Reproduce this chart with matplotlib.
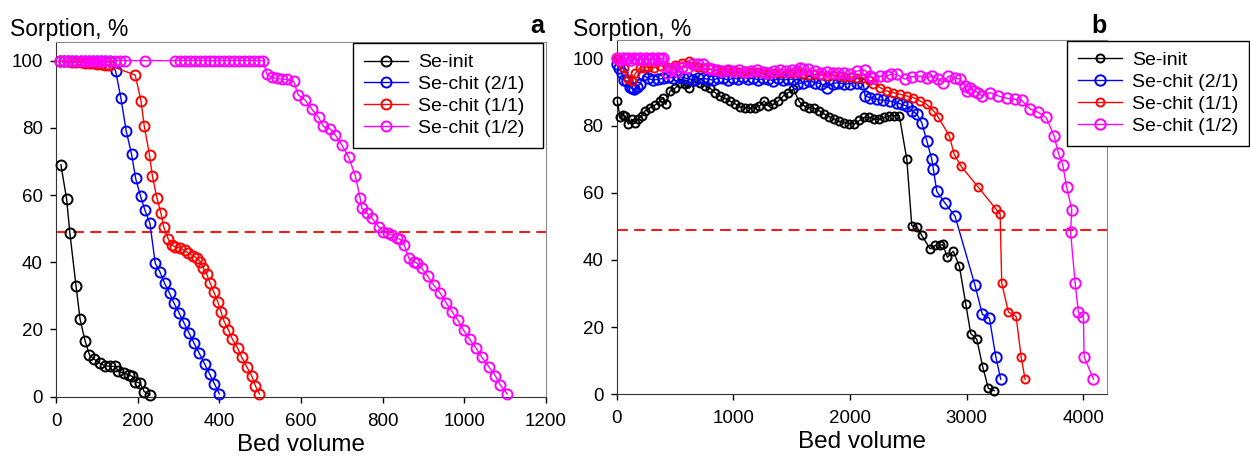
import matplotlib
matplotlib.use("Agg")
from matplotlib import pyplot as plt

plt.rcParams['font.family'] = ['Liberation Sans', 'DejaVu Sans']

labels = ["Se-init", "Se-chit (2/1)", "Se-chit (1/1)", "Se-chit (1/2)"]
colors = ["black", "#0000ff", "#ff0000", "#ff00ff"]

# ---- column a: bed volume vs sorption
a_init_x = [12, 26, 34, 49, 59, 71, 82, 94, 108, 120, 132, 145, 153, 166, 178, 187, 194, 206, 216, 230]
a_init_y = [69, 58.8, 48.6, 33, 23, 16.7, 12.4, 11.1, 9.9, 9.2, 9, 9, 7.5, 7, 6.5, 6, 4.5, 4, 1.5, 0.5]

a_21_x = [10, 20, 30, 40, 50, 60, 70, 80, 90, 100, 110, 120, 132, 146, 159, 172, 185, 195, 207,
          218, 230, 243, 255, 266, 278, 289, 302, 314, 326, 338, 351, 364, 376, 388, 400]
a_21_y = [100, 100, 100, 100, 100, 100, 100, 100, 100, 100, 100, 100, 100, 96.9, 88.8, 79, 72.2,
          65, 59.7, 55.4, 51.6, 39.7, 37, 33.7, 30.8, 27.8, 24.8, 21.8, 18.9, 15.9, 12.9, 9.7,
          6.8, 3.8, 0.8]

a_11_x = [10, 20, 30, 40, 50, 60, 70, 80, 90, 100, 110, 120, 130, 194, 208, 216, 229, 236, 247,
          257, 264, 275, 284, 292, 304, 315, 324, 335, 345, 353, 361, 369, 378, 387, 396, 404,
          412, 422, 432, 445, 455, 467, 480, 488, 498]
a_11_y = [100, 99.9, 99.8, 99.7, 99.6, 99.5, 99.4, 99.3, 99.2, 99.1, 99, 98.8, 98.6, 95.7, 88.1,
          80.6, 71.9, 65.7, 59.2, 54.6, 50.4, 46.9, 45.1, 44.6, 44.2, 43.5, 42.7, 42, 41.2, 40.2,
          38.2, 36.4, 33.7, 31, 28.3, 25.3, 22.3, 19.9, 17.1, 14.4, 11.7, 8.9, 6, 3.3, 0.8]

a_12_x = [10, 20, 30, 40, 50, 60, 70, 80, 90, 100, 110, 120, 130, 145, 157, 169, 218,
          292, 304, 316, 328, 340, 352, 364, 376, 388, 400, 412, 424, 436, 448, 460, 472, 484,
          496, 508, 516, 529, 541, 553, 566, 582, 593, 610, 627, 643, 655, 672, 684, 700, 717,
          733, 745, 749, 761, 774, 790, 802, 812, 823, 835, 843, 853, 864, 876, 884, 896, 910,
          925, 941, 955, 970, 984, 998, 1013, 1029, 1043, 1060, 1076, 1088, 1105]
a_12_y = [100, 100, 100, 100, 100, 100, 100, 100, 100, 100, 100, 100, 100, 100, 100, 100, 100,
          100, 100, 100, 100, 100, 100, 100, 100, 100, 100, 100, 100, 100, 100, 100, 100, 100,
          100, 100, 96, 95, 94.7, 94.5, 94.4, 93.8, 89.8, 88.3, 85.5, 83.1, 80.4, 79.6, 77.9,
          74.9, 71.2, 65.7, 59, 56, 54.6, 53.1, 50.6, 48.9, 48.6, 48.1, 47.1, 46.8, 45.1, 41.2,
          40.2, 39.7, 38.2, 35.9, 33.2, 30.8, 28, 25.3, 22.8, 19.8, 17.1, 14.4, 11.7, 8.9, 6.2,
          3.5, 0.8]

# ---- column b
b_init_x = [5, 28, 50, 71, 100, 128, 157, 185, 214, 243, 285, 328, 371, 400, 420, 457, 500, 543,
            585, 622, 671, 714, 757, 800, 843, 885, 928, 971, 1014, 1057, 1100, 1143, 1185, 1223,
            1263, 1300, 1343, 1385, 1428, 1471, 1514, 1565, 1608, 1651, 1694, 1737, 1780, 1822,
            1865, 1908, 1951, 1994, 2037, 2080, 2122, 2165, 2208, 2251, 2294, 2337, 2380, 2422,
            2486, 2529, 2571, 2614, 2686, 2728, 2771, 2794, 2834, 2885, 2937, 2991, 3034, 3086,
            3137, 3185, 3237]
b_init_y = [87.3, 82.4, 83, 82.9, 80.4, 81.9, 80.9, 81.9, 82.9, 84.4, 85.3, 86.1, 87.3, 88.3, 86.3,
            90.3, 91.1, 92.8, 92.3, 91.1, 93.3, 92.8, 91.8, 91.1, 89.8, 88.8, 88.1, 87.3, 86.5,
            85.5, 85.3, 85.1, 85.3, 85.8, 87.3, 85.8, 86.3, 87.3, 88.8, 89.8, 90.8, 87.1, 85.8,
            85.3, 85.1, 84.4, 83.4, 82.6, 81.9, 81.2, 80.9, 80.6, 80.4, 81.5, 82.4, 82.4, 81.9,
            81.9, 82.4, 82.9, 82.9, 82.9, 70, 50.2, 49.9, 47.3, 43.3, 44.3, 44.3, 44.6, 40.8,
            42.6, 38.1, 27, 18.1, 16.4, 8.2, 1.8, 1.1]

b_21_x = [0, 20, 43, 65, 86, 110, 128, 150, 171, 200, 228, 271, 314, 357, 400, 443, 485, 528, 571,
          614, 657, 700, 742, 785, 828, 871, 914, 957, 1000, 1043, 1086, 1128, 1171, 1214, 1257,
          1300, 1343, 1386, 1428, 1471, 1514, 1543, 1600, 1650, 1700, 1750, 1800, 1850, 1900,
          1950, 2000, 2057, 2114, 2128, 2171, 2228, 2285, 2342, 2400, 2443, 2486, 2529, 2571,
          2614, 2657, 2700, 2714, 2743, 2814, 2900, 3071, 3134, 3194, 3249, 3291]
b_21_y = [98.2, 97, 95.7, 93.5, 93.3, 91.5, 91.1, 90.8, 91.5, 92.3, 95, 94, 93.5, 93.8, 94, 94.5,
          94.2, 94.7, 94.2, 94, 93.5, 94, 94, 93.8, 93.5, 94.2, 94, 93.5, 94.2, 93.8, 94.5, 93.8,
          94.2, 93.5, 94, 93.8, 93.3, 94, 93.5, 93.8, 93.8, 92.3, 92.8, 93.3, 92.8, 92.5, 91.3,
          92.5, 92.8, 92.3, 92.5, 92.8, 92.3, 88.8, 88.3, 87.8, 87.5, 87.3, 86.8, 86.3, 85.8,
          84.4, 83.4, 80.9, 75.5, 70, 67, 60.4, 56.9, 53, 32.4, 23.8, 22.7, 11.2, 4.5]

b_11_x = [0, 30, 60, 100, 128, 160, 200, 231, 270, 320, 370, 430, 500, 560, 617, 660, 700, 750,
          800, 850, 900, 950, 1000, 1050, 1100, 1150, 1200, 1250, 1300, 1350, 1400, 1457, 1500,
          1550, 1600, 1650, 1700, 1750, 1800, 1850, 1914, 1960, 2010, 2060, 2114, 2160, 2200,
          2257, 2314, 2371, 2428, 2486, 2543, 2600, 2657, 2714, 2757, 2851, 2892, 2949, 3100,
          3249, 3286, 3300, 3357, 3423, 3466, 3500]
b_11_y = [99.7, 99, 97, 93.8, 93.3, 95.5, 97.2, 97.2, 97.5, 97.2, 97.8, 97.5, 98, 98.5, 99.2,
          97.8, 97.5, 97, 96.7, 96.5, 96.2, 96.5, 96.2, 96, 96.2, 95.8, 96, 95.7, 96, 95.7, 95.5,
          95.7, 95.5, 95.7, 95.2, 95, 95.2, 95, 94.8, 95, 94.7, 94.5, 94.5, 94.2, 94.2, 93.5,
          92.5, 91.3, 90.3, 89.8, 89.3, 88.8, 88.3, 87.3, 86.3, 84.4, 82.4, 76.9, 71.5, 68, 61.6,
          55.2, 53.7, 33.1, 24.5, 23.2, 11.2, 4.5]

b_12_x = [0, 25, 50, 75, 100, 125, 150, 175, 200, 225, 250, 275, 300, 325, 350, 375, 400, 428,
          460, 490, 520, 560, 600, 657, 700, 742, 780, 817, 860, 900, 950, 1000, 1050, 1100, 1150,
          1200, 1250, 1300, 1350, 1400, 1450, 1500, 1543, 1571, 1600, 1643, 1700, 1750, 1800,
          1850, 1900, 1950, 2000, 2057, 2128, 2171, 2200, 2257, 2314, 2350, 2400, 2471, 2530,
          2600, 2657, 2700, 2757, 2800, 2843, 2900, 2943, 2986, 3000, 3029, 3060, 3100, 3129,
          3200, 3271, 3343, 3414, 3471, 3543, 3614, 3680, 3749, 3786, 3823, 3857, 3900, 3890,
          3929, 3957, 4000, 4006, 4086]
b_12_y = [100, 99.5, 100, 99.7, 100, 99.5, 100, 99.7, 100, 99.5, 100, 99.7, 100, 99.5, 100, 99.7,
          100, 95.7, 96.7, 97.2, 96.2, 97.5, 97.2, 98.2, 98.4, 98.4, 97.2, 96.7, 96.5, 96.2, 96.5,
          96.2, 96.5, 96, 96.2, 96.5, 96, 95.7, 96.2, 96.5, 96.2, 96.5, 96.2, 97.2, 96.7, 96.7,
          96.2, 95.7, 96, 95.7, 95.5, 95.7, 95.2, 96.2, 96.5, 94.7, 94.2, 94.7, 94.7, 95.2, 95.2,
          93.8, 94.5, 94.7, 94.2, 94.7, 93.8, 92.8, 94.7, 94.2, 93.8, 91.8, 90.3, 91.3, 90.3,
          89.8, 88.8, 89.8, 88.8, 88.1, 87.8, 87.5, 84.9, 83.9, 82.4, 76.9, 71.7, 68.3, 61.6, 55,
          48.3, 33.1, 24.5, 23, 11.2, 4.5]

breakthrough = 49

fig = plt.figure(figsize=(12.5, 4.58), dpi=100)
ax1 = fig.add_axes([0.0448, 0.134, 0.392, 0.774])
ax2 = fig.add_axes([0.4934, 0.139, 0.392, 0.774])

series_a = [(a_init_x, a_init_y), (a_21_x, a_21_y), (a_11_x, a_11_y), (a_12_x, a_12_y)]
series_b = [(b_init_x, b_init_y), (b_21_x, b_21_y), (b_11_x, b_11_y), (b_12_x, b_12_y)]
msize_a = [7.2, 7.2, 7.2, 7.2]
msize_b = [5.8, 7.5, 5.8, 7.5]

for ax, series, msizes in [(ax1, series_a, msize_a), (ax2, series_b, msize_b)]:
    ax.axhline(breakthrough, color="#ff0000", lw=1.3, ls=(0, (6, 3.5)), zorder=1)
    for (x, y), c, lab, ms in zip(series, colors, labels, msizes):
        ax.plot(x, y, color=c, lw=1.0, marker="o", ms=ms, mfc="none", mec=c, mew=1.4,
                label=lab, clip_on=False, zorder=3)
    ax.set_ylim(0, 105.5)
    ax.set_yticks([0, 20, 40, 60, 80, 100])
    ax.tick_params(axis="both", labelsize=13.5, length=4.5, width=1, direction="out",
                   top=False, right=False)
    ax.tick_params(axis="x", pad=7)
    ax.tick_params(axis="y", pad=5)
    for s in ["left", "bottom"]:
        ax.spines[s].set_color("#333333")
    for s in ["top", "right"]:
        ax.spines[s].set_color("#8a8a8a")
    ax.set_xlabel("Bed volume", fontsize=17.5, labelpad=3)

ax1.set_xlim(0, 1200)
ax1.set_xticks(range(0, 1201, 200))
ax2.set_xlim(0, 4200)
ax2.set_xticks([0, 1000, 2000, 3000, 4000])

leg_kw = dict(loc="upper left", mode="expand", bbox_transform=fig.transFigure, borderaxespad=0,
              fontsize=14, frameon=True, fancybox=False, edgecolor="black", framealpha=1,
              handlelength=2.3, handletextpad=0.5, labelspacing=0.22, borderpad=0.55)
l1 = ax1.legend(bbox_to_anchor=(0.2824, 0.906 - 0.2314, 0.152, 0.2314), **leg_kw)
l2 = ax2.legend(bbox_to_anchor=(0.8536, 0.9105 - 0.2314, 0.1456, 0.2314), **leg_kw)
for leg in (l1, l2):
    leg.get_frame().set_linewidth(1.0)

fig.text(10 / 1250, 0.921, "Sorption, %", fontsize=16.5, va="baseline", ha="left")
fig.text(573 / 1250, 0.921, "Sorption, %", fontsize=16.5, va="baseline", ha="left")
fig.text(544 / 1250, 0.928, "a", fontsize=18, fontweight="bold", va="baseline", ha="right")
fig.text(1107 / 1250, 0.928, "b", fontsize=18, fontweight="bold", va="baseline", ha="right")

fig.savefig("out.png", dpi=100)
